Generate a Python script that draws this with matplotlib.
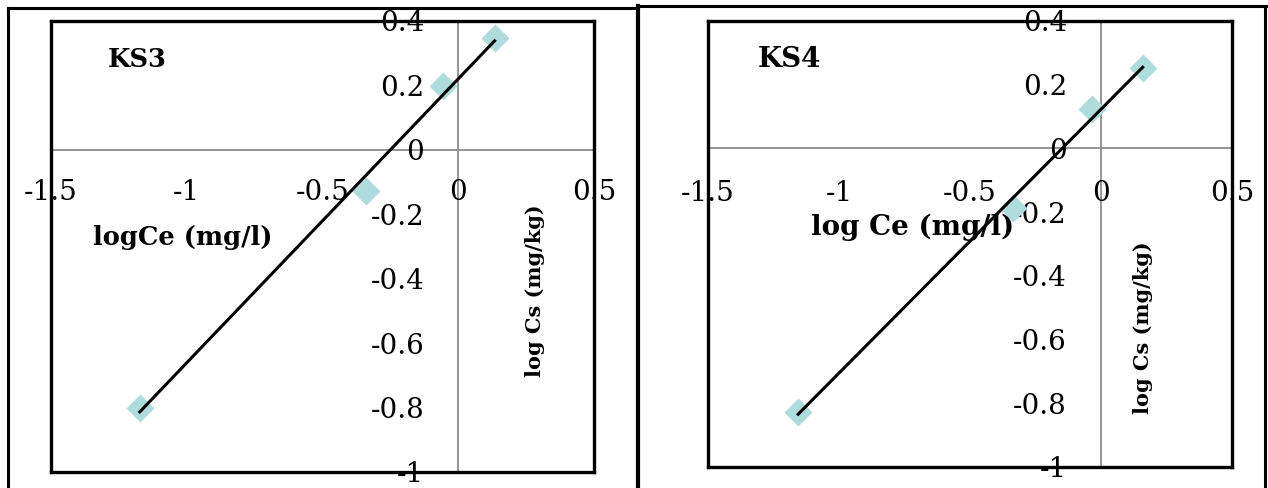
import matplotlib.pyplot as plt
from matplotlib.lines import Line2D
from matplotlib.transforms import ScaledTranslation
import numpy as np

# data
ks3_x = [0.134, -0.057, -0.34, -1.173]
ks3_y = [0.346, 0.197, -0.127, -0.80]
ks4_x = [0.159, -0.035, -0.335, -1.156]
ks4_y = [0.251, 0.123, -0.188, -0.826]

x_ticks = [-1.5, -1, -0.5, 0, 0.5]
x_tick_labels = ['-1.5', '-1', '-0.5', '0', '0.5']
y_ticks = [-1, -0.8, -0.6, -0.4, -0.2, 0, 0.2, 0.4]
y_tick_labels = ['-1', '-0.8', '-0.6', '-0.4', '-0.2', '0', '0.2', '0.4']

W, H = 1268, 489
fig = plt.figure(figsize=(W / 100, H / 100), dpi=100)
plt.rcParams['font.family'] = 'DejaVu Serif'


def px(x0, y0, x1, y1):
    # pixel box (top-left origin) -> figure fraction rect
    return [x0 / W, (H - y1) / H, (x1 - x0) / W, (y1 - y0) / H]


def draw_panel(rect, xs, ys, name, xlab, xlab_pos, ylab_pos, xoff, tsize):
    ax = fig.add_axes(rect)
    ax.set_xlim(-1.5, 0.5)
    ax.set_ylim(-1, 0.4)
    for s in ax.spines.values():
        s.set_linewidth(2.4)
        s.set_color('black')
        s.set_zorder(5)
    ax.set_xticks([])
    ax.set_yticks([])
    ax.axhline(0, color='#8c8c8c', lw=1.3, zorder=1)
    ax.axvline(0, color='#8c8c8c', lw=1.3, zorder=1)

    # trendline
    slope, icpt = np.polyfit(xs, ys, 1)
    lx = np.array([min(xs), max(xs)])
    ax.plot(xs, ys, linestyle='none', marker='D', ms=14, color='#aedbdb', mec='none', zorder=2)
    ax.plot(lx, slope * lx + icpt, color='black', lw=2.2, zorder=3)

    tx = ax.transData + ScaledTranslation(0, -xoff / 100, fig.dpi_scale_trans)
    for v, lab in zip(x_ticks, x_tick_labels):
        ax.text(v, 0, lab, transform=tx, ha='center', va='center', fontsize=20,
                color='black', zorder=1, clip_on=False)
    ty = ax.transData + ScaledTranslation(-0.34, -0.02, fig.dpi_scale_trans)
    for v, lab in zip(y_ticks, y_tick_labels):
        ax.text(0, v, lab, transform=ty, ha='right', va='center', fontsize=20,
                color='black', zorder=1, clip_on=False)

    ax.text(*name[1], name[0], transform=ax.transAxes, ha='center', va='center',
            fontsize=tsize, fontweight='bold')
    ax.text(*xlab_pos, xlab, transform=ax.transAxes, ha='center', va='center',
            fontsize=tsize, fontweight='bold', zorder=4)
    ax.text(*ylab_pos, 'log Cs (mg/kg)', transform=ax.transAxes, ha='center', va='center',
            fontsize=15, fontweight='bold', rotation=90)
    return ax


draw_panel(px(51, 22, 594, 473), ks3_x, ks3_y, ('KS3', (0.158, 0.916)),
           'logCe (mg/l)', (0.243, 0.523), (0.891, 0.404), 42, 18.5)
draw_panel(px(708, 22, 1232, 468), ks4_x, ks4_y, ('KS4', (0.156, 0.915)),
           'log Ce (mg/l)', (0.391, 0.540), (0.830, 0.314), 44, 20)

# table cell borders around the two charts
def fline(x0, y0, x1, y1, lw):
    fig.add_artist(Line2D([x0 / W, x1 / W], [1 - y0 / H, 1 - y1 / H], color='black', lw=lw))

fline(8, 9, 638, 9, 2.2)
fline(638, 7, 1266, 7, 2.2)
fline(8, 9, 8, 489, 2.2)
fline(638, 7, 638, 489, 3)
fline(1265, 7, 1265, 489, 2.2)

fig.savefig('out.png', dpi=100)
